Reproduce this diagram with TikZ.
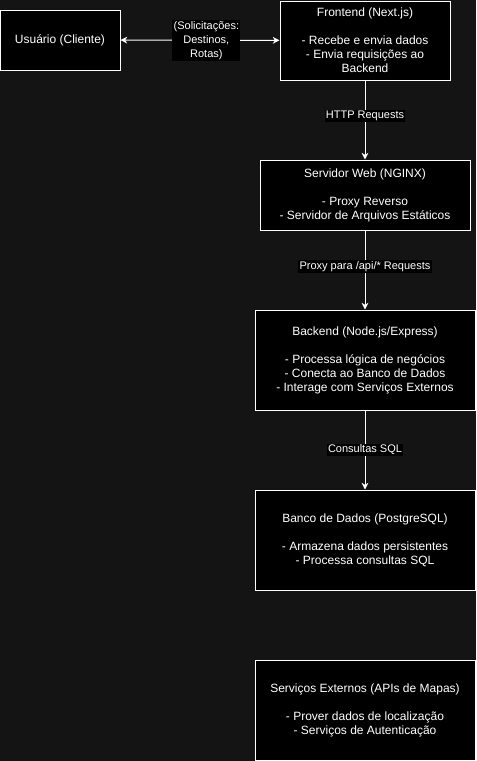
\documentclass[tikz,border=0pt]{standalone}
\usepackage{fontspec}
\setmainfont{Liberation Sans}
\usepackage{tikz}
\usetikzlibrary{arrows.meta}
\definecolor{dark-bg}{RGB}{20,20,20}
\tikzset{
  block/.style={draw=white, fill=black, text=white, line width=0.75pt, align=center, inner sep=0pt, font=\fontsize{9}{10.5}\selectfont},
  link/.style={white, line width=0.75pt, -{Stealth[length=5pt,width=5pt,inset=1.5pt]}},
  tag/.style={fill=black, text=white, align=center, inner sep=1pt, font=\fontsize{8.25}{10.5}\selectfont}
}

\begin{document}
\begin{tikzpicture} [x=0.75pt, y=-0.75pt]%Arquitetura
\fill[dark-bg] (0,0) rectangle (476,761);
\useasboundingbox (0,0) rectangle (476,761);
  \node [block, minimum width=120*0.75pt, minimum height=60*0.75pt] (usuario) at (60,40) {Usuário (Cliente)};
  \node [block, minimum width=170*0.75pt, minimum height=79*0.75pt] (frontend) at (365,40.5) {Frontend (Next.js)\\[10.5pt] - Recebe e envia dados\\ - Envia requisições ao\\ Backend};
  \node [block, minimum width=210*0.75pt, minimum height=70*0.75pt] (servidor) at (365,195) {Servidor Web (NGINX)\\[10.5pt] - Proxy Reverso\\ - Servidor de Arquivos Estáticos};
  \node [block, minimum width=220*0.75pt, minimum height=100*0.75pt] (backend) at (365,360) {Backend (Node.js/Express)\\[10.5pt] - Processa lógica de negócios\\ - Conecta ao Banco de Dados\\ - Interage com Serviços Externos};
  \node [block, minimum width=220*0.75pt, minimum height=100*0.75pt] (banco) at (365,540) {Banco de Dados (PostgreSQL)\\[10.5pt] - Armazena dados persistentes\\ - Processa consultas SQL};
  \node [block, minimum width=220*0.75pt, minimum height=100*0.75pt] (servicos) at (365,710) {Serviços Externos (APIs de Mapas)\\[10.5pt] - Prover dados de localização\\ - Serviços de Autenticação};
% conexoes
\draw [link, {Stealth[length=5pt,width=5pt,inset=1.5pt]}-{Stealth[length=5pt,width=5pt,inset=1.5pt]}] (usuario) -- node [tag, pos=0.54] {(Solicitações:\\ Destinos,\\ Rotas)} (frontend);
\draw [link] (frontend) -- node [tag, pos=0.45] {HTTP Requests} (servidor);
\draw [link] (servidor) -- node [tag, pos=0.46] {Proxy para /api/* Requests} (backend);
\draw [link] (backend) -- node [tag] {Consultas SQL} (banco);
\end{tikzpicture}
\end{document}
